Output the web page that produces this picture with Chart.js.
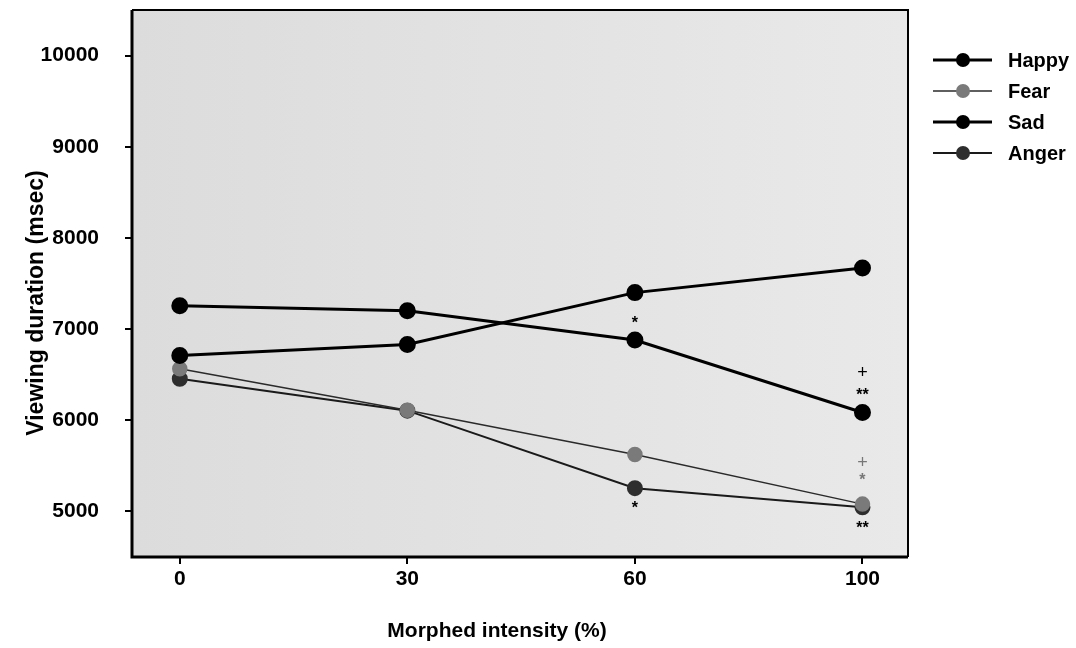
<!DOCTYPE html>
<html>
<head>
<meta charset="utf-8">
<script src="https://cdn.jsdelivr.net/npm/chart.js@4"></script>
<style>
    body { margin: 0; background: #fff; }
    #wrap { width: 1076px; height: 648px; }
</style>
</head>
<body>
<div id="wrap"><canvas id="chart" width="1076" height="648"></canvas></div>
<script>
// Categories (equally spaced on the x axis)
const xLabels = ['0', '30', '60', '100'];
const yTicks = [5000, 6000, 7000, 8000, 9000, 10000];

// Series values (msec)
const happy = [6710, 6830, 7400, 7670];
const fear = [6565, 6110, 5625, 5080];
const sad = [7255, 7200, 6880, 6085];
const anger = [6455, 6105, 5255, 5045];

// Significance marks: category index, value, text
const markX = [2, 3, 3, 3, 3, 2, 3];
const markY = [7090, 6520, 6300, 5536, 5370, 5066, 4847];
const markText = ['*', '+', '**', '+', '*', '*', '**'];
const markGrey = [false, false, false, true, true, false, false];

const FONT = "'Liberation Sans', Arial, sans-serif";

function series(label, values, lineColor, pointColor, width) {
    return {
        label: label,
        data: values.map((v, i) => ({ x: i, y: v })),
        borderColor: lineColor,
        backgroundColor: pointColor,
        pointBackgroundColor: pointColor,
        pointBorderColor: pointColor,
        pointRadius: 7,
        borderWidth: width,
        tension: 0
    };
}

const datasets = [
    series('Happy', happy, '#000', '#000', 3),
    series('Fear', fear, '#2a2a2a', '#7a7a7a', 1.5),
    series('Sad', sad, '#000', '#000', 3),
    series('Anger', anger, '#1a1a1a', '#2e2e2e', 2)
];

const framePlugin = {
    id: 'frame',
    beforeDatasetsDraw(chart) {
        const { ctx, chartArea: a } = chart;
        ctx.save();
        const g = ctx.createLinearGradient(a.left, 0, a.right, 0);
        g.addColorStop(0, '#dcdcdc');
        g.addColorStop(1, '#e9e9e9');
        ctx.fillStyle = g;
        ctx.fillRect(a.left, a.top, a.right - a.left, a.bottom - a.top);
        ctx.strokeStyle = '#000';
        ctx.lineWidth = 2;
        ctx.beginPath();
        ctx.moveTo(a.left, a.top);
        ctx.lineTo(a.right, a.top);
        ctx.lineTo(a.right, a.bottom);
        ctx.stroke();
        ctx.lineWidth = 3;
        ctx.beginPath();
        ctx.moveTo(a.left, a.top);
        ctx.lineTo(a.left, a.bottom);
        ctx.lineTo(a.right, a.bottom);
        ctx.stroke();
        ctx.restore();
    },
    afterDraw(chart) {
        const { ctx, scales } = chart;
        ctx.save();
        // significance marks
        ctx.textAlign = 'center';
        ctx.textBaseline = 'middle';
        markText.forEach((t, i) => {
            ctx.fillStyle = markGrey[i] ? '#777' : '#000';
            ctx.font = (t === '+' ? '18px ' : 'bold 16px ') + FONT;
            ctx.fillText(t, scales.x.getPixelForValue(markX[i]), scales.y.getPixelForValue(markY[i]) + (t === '+' ? 0 : 3));
        });

        // axis titles
        ctx.fillStyle = '#000';
        ctx.font = 'bold 21px ' + FONT;
        ctx.fillText('Morphed intensity (%)', 497, 631);
        ctx.save();
        ctx.translate(37, 303);
        ctx.rotate(-Math.PI / 2);
        ctx.font = 'bold 23px ' + FONT;
        ctx.fillText('Viewing duration (msec)', 0, 0);
        ctx.restore();

        // legend
        const rows = [60, 91, 122, 153];
        chart.data.datasets.forEach((ds, i) => {
            const y = rows[i];
            ctx.strokeStyle = ds.borderColor;
            ctx.lineWidth = ds.borderWidth;
            ctx.beginPath();
            ctx.moveTo(933, y);
            ctx.lineTo(992, y);
            ctx.stroke();
            ctx.fillStyle = ds.pointBackgroundColor;
            ctx.beginPath();
            ctx.arc(963, y, 7, 0, Math.PI * 2);
            ctx.fill();
            ctx.fillStyle = '#000';
            ctx.font = 'bold 20px ' + FONT;
            ctx.textAlign = 'left';
            ctx.fillText(ds.label, 1008, y + 1);
        });
        ctx.restore();
    }
};

new Chart(document.getElementById('chart'), {
    type: 'line',
    data: { datasets: datasets },
    options: {
        responsive: false,
        animation: false,
        layout: { padding: { top: 9, right: 168, left: 0, bottom: 0 } },
        plugins: {
            legend: { display: false },
            tooltip: { enabled: false }
        },
        scales: {
            x: {
                type: 'linear',
                min: -0.21,
                max: 3.2,
                afterBuildTicks: (scale) => {
                    scale.ticks = xLabels.map((l, i) => ({ value: i }));
                },
                afterFit: (scale) => {
                    scale.height = 91;
                    scale.paddingLeft = 0;
                    scale.paddingRight = 0;
                },
                grid: { drawOnChartArea: false, tickLength: 7, lineWidth: 2, color: '#000' },
                border: { display: false },
                ticks: {
                    padding: 3,
                    color: '#000',
                    font: { family: FONT, size: 21, weight: 'bold' },
                    callback: (v) => xLabels[v]
                }
            },
            y: {
                min: 4500,
                max: 10500,
                afterBuildTicks: (scale) => {
                    scale.ticks = yTicks.map((v) => ({ value: v }));
                },
                afterFit: (scale) => {
                    scale.width = 132;
                    scale.paddingTop = 0;
                    scale.paddingBottom = 0;
                },
                grid: { drawOnChartArea: false, tickLength: 7, lineWidth: 2, color: '#000' },
                border: { display: false },
                ticks: {
                    padding: 26,
                    color: '#000',
                    font: { family: FONT, size: 21, weight: 'bold' },
                    callback: (v) => String(v)
                }
            }
        }
    },
    plugins: [framePlugin]
});
</script>
</body>
</html>
